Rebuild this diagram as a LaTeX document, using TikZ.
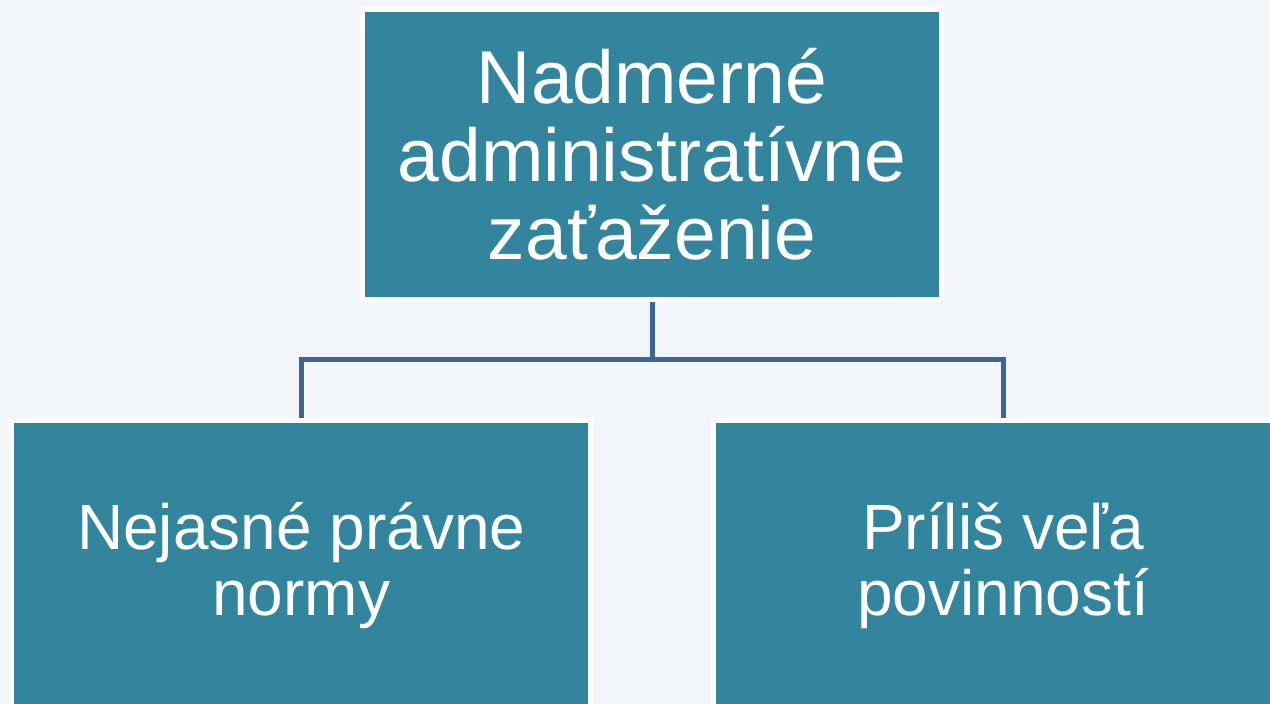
\documentclass[tikz,border=0pt]{standalone}
\usepackage{fontspec}
\setmainfont{Liberation Sans}
\definecolor{bg}{HTML}{F2F5F9}
\definecolor{tealbox}{HTML}{32859C}
\definecolor{conncol}{HTML}{3E6594}
\tikzset{
  box/.style={rectangle, fill=tealbox, draw=white, line width=5pt, text=white,
    align=center, minimum width=579pt, minimum height=289.5pt, inner sep=0pt, outer sep=0pt},
  topfont/.style={font=\fontsize{75pt}{78pt}\selectfont},
  subfont/.style={font=\fontsize{64pt}{66pt}\selectfont},
  conn/.style={draw=conncol, line width=5pt, line join=miter}
}
\begin{document}
\begin{tikzpicture}[x=1pt, y=-1pt]
\useasboundingbox (0,0) rectangle (1270,704);
\clip (0,0) rectangle (1270,704);
\fill[bg] (0,0) rectangle (1270,704);
\node[box, topfont] (top) at (652,154.25) {Nadmerné\\administratívne\\zaťaženie};
\node[box, subfont] (left) at (301.25,565.25) {Nejasné právne\\normy};
\node[box, subfont] (right) at (1003,565.25) {Príliš veľa\\povinností};
\coordinate (mid) at (652,359.5);
\draw[conn, shorten <=2.5pt] (top.south) -- (mid);
\draw[conn, shorten <=2.5pt, shorten >=2.5pt] (left.north) |- (mid) -| (right.north);
\end{tikzpicture}
\end{document}
